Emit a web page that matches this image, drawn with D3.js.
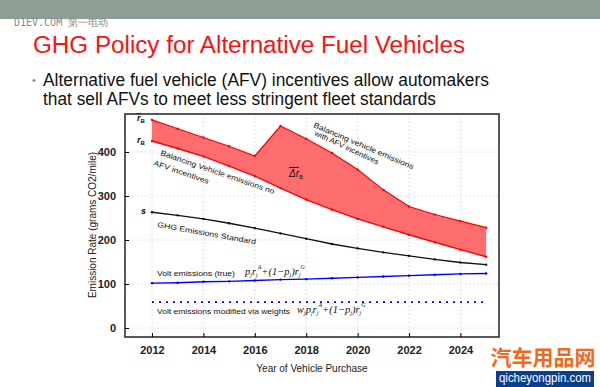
<!DOCTYPE html>
<html><head><meta charset="utf-8">
<script src="https://cdn.jsdelivr.net/npm/d3@7/dist/d3.min.js"></script>
<style>body{margin:0;background:#fff;} svg{display:block;font-family:"Liberation Sans",Arial,sans-serif;}</style>
</head><body>
<svg id="c" width="600" height="387"></svg>
<script>
const years = [2012,2013,2014,2015,2016,2017,2018,2019,2020,2021,2022,2023,2024,2025];
const withAFV = [473,453,433,413,391,459,430,398,360,314,276,258,243,228];
const noAFV = [425,408,390,368,345,318,292,269,248,230,212,195,178,162];
const standard = [263,256,248,238,227,215,203,191,181,172,164,156,149,144];
const voltTrue = [102,103,105,106,108,110,111,113,115,117,119,121,123,124];
const voltWeighted = [59,59,59,59,59,59,59,59,59,59,59,59,59,59];
const xTicks = [2012,2014,2016,2018,2020,2022,2024];
const yTicks = [0,100,200,300,400];

const svg = d3.select("#c");
// slide header band
svg.append("rect").attr("x",0).attr("y",0).attr("width",600).attr("height",19).attr("fill","#8d9f94");
svg.append("text").attr("x",14).attr("y",26).attr("font-family","DejaVu Sans Mono, monospace").attr("font-size",10).attr("fill","#8a8a8a").text("D1EV.COM 第一电动");
svg.append("text").attr("x",33).attr("y",53).attr("font-size",23).attr("fill","#ff1010")
  .attr("textLength",432).attr("lengthAdjust","spacingAndGlyphs").text("GHG Policy for Alternative  Fuel Vehicles");
svg.append("text").attr("x",32).attr("y",84).attr("font-size",11).attr("fill","#888").text("•");
svg.append("text").attr("x",43).attr("y",86).attr("font-size",17.5).attr("fill","#111")
  .attr("textLength",446).attr("lengthAdjust","spacingAndGlyphs").text("Alternative fuel vehicle (AFV) incentives allow automakers");
svg.append("text").attr("x",43).attr("y",105).attr("font-size",17.5).attr("fill","#111")
  .attr("textLength",393).attr("lengthAdjust","spacingAndGlyphs").text("that sell AFVs to meet less stringent fleet standards");

const L=125,T=114,R=499,B=337;
const x = d3.scaleLinear().domain([2010.95,2025.5]).range([L,R]);
const y = d3.scaleLinear().domain([-20.45,486.4]).range([B,T]);

// grid
const g = svg.append("g");
g.selectAll(".vg").data(xTicks).join("line").attr("x1",d=>x(d)).attr("x2",d=>x(d)).attr("y1",T).attr("y2",B)
  .attr("stroke","#c8c8c8").attr("stroke-width",1).attr("stroke-dasharray","1,3");
g.selectAll(".hg").data(yTicks).join("line").attr("y1",d=>y(d)).attr("y2",d=>y(d)).attr("x1",L).attr("x2",R)
  .attr("stroke","#c8c8c8").attr("stroke-width",1).attr("stroke-dasharray","1,3");

// area
const area = d3.area().x((d,i)=>x(years[i])).y0((d,i)=>y(noAFV[i])).y1(d=>y(d));
svg.append("path").datum(withAFV).attr("d",area).attr("fill","#ff6e6e");
const line = d3.line().x((d,i)=>x(years[i])).y(d=>y(d));
function series(vals,color,w,dash){
  svg.append("path").datum(vals).attr("d",line).attr("fill","none").attr("stroke",color).attr("stroke-width",w).attr("stroke-dasharray",dash||null);
  if(!dash) svg.append("g").selectAll("circle").data(vals).join("circle").attr("cx",(d,i)=>x(years[i])).attr("cy",d=>y(d)).attr("r",1.2).attr("fill",color);
}
series(withAFV,"#ff0000",1.2);
series(noAFV,"#ff0000",1.4);
series(standard,"#111",1.4);
series(voltTrue,"#0000ff",1.4);
series(voltWeighted,"#0000ff",1.8,"2,5");

// frame
svg.append("rect").attr("x",L).attr("y",T).attr("width",R-L).attr("height",B-T).attr("fill","none").attr("stroke","#222").attr("stroke-width",1.5);
// axes
const ax = svg.append("g").attr("transform",`translate(0,${B})`).call(d3.axisBottom(x).tickValues(xTicks).tickFormat(d3.format("d")).tickSize(-4).tickPadding(9));
ax.select(".domain").remove();
ax.selectAll("text").attr("font-size",11).attr("font-weight","bold").attr("fill","#222").attr("font-family","Liberation Sans, Arial");
const ay = svg.append("g").attr("transform",`translate(${L},0)`).call(d3.axisLeft(y).tickValues(yTicks).tickSize(-4).tickPadding(9));
ay.select(".domain").remove();
ay.selectAll("text").attr("font-size",11).attr("font-weight","bold").attr("fill","#222").attr("font-family","Liberation Sans, Arial");

svg.append("text").attr("x",312).attr("y",372).attr("text-anchor","middle").attr("font-size",10).attr("fill","#222").text("Year of Vehicle Purchase");
svg.append("text").attr("transform","translate(96,225) rotate(-90)").attr("text-anchor","middle").attr("font-size",10).attr("fill","#222").text("Emission Rate (grams CO2/mile)");

// annotations
const ann = svg.append("g").attr("fill","#111");
function lab(px,py,ang,txt,len){ann.append("text").attr("transform",`translate(${px},${py}) rotate(${ang})`).attr("font-size",7.5)
  .attr("textLength",len).attr("lengthAdjust","spacingAndGlyphs").text(txt);}
lab(160,155,19,"Balancing Vehicle emissions no",120);
lab(153,165,19,"AFV incentives",58);
lab(313,127,23,"Balancing vehicle emissions",108);
lab(314,135,25,"with AFV incentives",70);
lab(157,227,10,"GHG Emissions Standard",100);
ann.append("text").attr("x",157).attr("y",276).attr("font-size",7.5).attr("textLength",78).attr("lengthAdjust","spacingAndGlyphs").text("Volt emissions (true)");
ann.append("text").attr("x",157).attr("y",314).attr("font-size",7.5).attr("textLength",133).attr("lengthAdjust","spacingAndGlyphs").text("Volt emissions modified via weights");

function rlab(px,py,sub,bar){
  const t=svg.append("text").attr("x",px).attr("y",py).attr("font-size",9).attr("font-style","italic").attr("font-weight","bold").attr("fill","#111");
  t.append("tspan").attr("text-decoration",bar?"overline":null).text("r");
  t.append("tspan").attr("font-size",6).attr("dy",2).attr("font-style","normal").text(sub);
}
rlab(137,121,"B",true);
rlab(137,143,"B",false);
svg.append("text").attr("x",141).attr("y",214).attr("font-size",9).attr("font-style","italic").attr("font-weight","bold").text("s");
const d = svg.append("text").attr("x",289).attr("y",177).attr("font-size",10).attr("font-style","italic").attr("fill","#111");
d.append("tspan").attr("text-decoration","overline").text("Δr");
d.append("tspan").attr("font-size",6).attr("dy",2).attr("font-style","normal").text("B");

function formula(px,py,w){
  const t=svg.append("text").attr("x",px).attr("y",py).attr("font-size",10.5).attr("font-style","italic").attr("font-family","Liberation Serif, serif").attr("fill","#111");
  if(w){t.append("tspan").text("w");t.append("tspan").attr("font-size",6).attr("dy",2).text("j");t.append("tspan").attr("dy",-2).text("p");}
  else t.append("tspan").text("p");
  t.append("tspan").attr("font-size",6).attr("dy",2).text("j");
  t.append("tspan").attr("dy",-2).text("r");t.append("tspan").attr("font-size",6).attr("dy",2).text("j");
  t.append("tspan").attr("font-size",6).attr("dy",-8).text("A");
  t.append("tspan").attr("dy",6).text("+(1−p");t.append("tspan").attr("font-size",6).attr("dy",2).text("j");
  t.append("tspan").attr("dy",-2).text(")r");t.append("tspan").attr("font-size",6).attr("dy",2).text("j");
  t.append("tspan").attr("font-size",6).attr("dy",-8).text("G");
}
formula(245,275,false);
formula(297,313,true);

// bottom-right watermark
svg.append("text").attr("x",543).attr("y",365).attr("text-anchor","middle").attr("font-family","Noto Sans CJK SC").attr("font-weight","bold").attr("font-size",21).attr("fill","#f06a1e").text("汽车用品网");
svg.append("rect").attr("x",496).attr("y",371).attr("width",98).attr("height",16).attr("fill","#0b3f8c");
svg.append("text").attr("x",545).attr("y",382).attr("text-anchor","middle").attr("font-size",12).attr("fill","#fff").attr("textLength",92).attr("lengthAdjust","spacingAndGlyphs").text("qicheyongpin.com");
</script>
</body></html>
